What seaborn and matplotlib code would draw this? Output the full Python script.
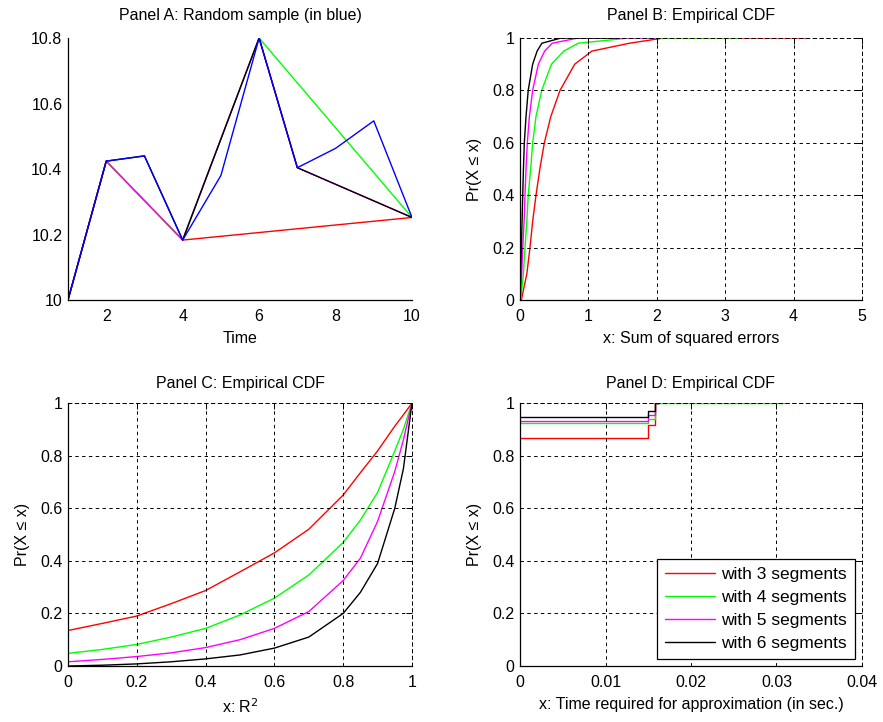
import matplotlib
matplotlib.use("Agg")
import matplotlib.pyplot as plt
import seaborn as sns
import pandas as pd

# ---------------- data ----------------
time = [1, 2, 3, 4, 5, 6, 7, 8, 9, 10]
sample = [10.0, 10.424, 10.44, 10.183, 10.38, 10.8, 10.404, 10.463, 10.547, 10.252]
breaks3 = [1, 2, 4, 10]
breaks4 = [1, 2, 4, 6, 10]
breaks5 = [1, 2, 4, 6, 7, 10]
breaks6 = [1, 2, 3, 4, 6, 7, 10]

series_labels = ["with 3 segments", "with 4 segments", "with 5 segments", "with 6 segments"]
series_colors = ["#ff0000", "#00ff00", "#ff00ff", "#000000"]

# Panel B: empirical CDF of the sum of squared errors (quantiles read at CDF levels)
cdf_levels = [0.0, 0.1, 0.2, 0.3, 0.4, 0.5, 0.6, 0.7, 0.8, 0.9, 0.95, 0.98, 1.0, 1.0]
sse3 = [0.02, 0.10, 0.146, 0.185, 0.234, 0.29, 0.356, 0.45, 0.585, 0.80, 1.05, 1.6, 2.1, 4.2]
sse4 = [0.01, 0.05, 0.073, 0.10, 0.12, 0.156, 0.185, 0.234, 0.317, 0.46, 0.64, 0.85, 1.6, 3.2]
sse5 = [0.005, 0.025, 0.04, 0.06, 0.073, 0.088, 0.107, 0.137, 0.185, 0.268, 0.36, 0.47, 0.85, 2.0]
sse6 = [0.0, 0.01, 0.02, 0.03, 0.04, 0.05, 0.063, 0.088, 0.12, 0.185, 0.25, 0.32, 0.6, 1.4]

# Panel C: empirical CDF of R^2
r2_x = [0.0, 0.1, 0.2, 0.3, 0.4, 0.5, 0.6, 0.7, 0.8, 0.85, 0.9, 0.95, 0.975, 1.0]
r2_3 = [0.135, 0.162, 0.19, 0.237, 0.287, 0.358, 0.43, 0.52, 0.65, 0.735, 0.818, 0.912, 0.955, 1.0]
r2_4 = [0.048, 0.063, 0.082, 0.11, 0.143, 0.194, 0.258, 0.346, 0.47, 0.555, 0.66, 0.818, 0.9, 1.0]
r2_5 = [0.016, 0.025, 0.036, 0.05, 0.07, 0.10, 0.143, 0.207, 0.325, 0.41, 0.55, 0.74, 0.86, 1.0]
r2_6 = [0.0, 0.003, 0.008, 0.016, 0.027, 0.042, 0.068, 0.11, 0.2, 0.28, 0.39, 0.6, 0.75, 1.0]

# Panel D: empirical CDF of computation time (step functions)
t3_x = [0.0, 0.015, 0.0158, 0.0162]
t3_y = [0.867, 0.915, 1.0, 1.0]
t4_x = [0.0, 0.015, 0.0158, 0.031]
t4_y = [0.924, 0.94, 1.0, 1.0]
t5_x = [0.0, 0.015, 0.0158, 0.0162]
t5_y = [0.93, 0.953, 1.0, 1.0]
t6_x = [0.0, 0.015, 0.0158, 0.0162]
t6_y = [0.945, 0.968, 1.0, 1.0]

ticks_A_x = [2, 4, 6, 8, 10]
ticks_A_y = [10.0, 10.2, 10.4, 10.6, 10.8]
ticks_prob = [0, 0.2, 0.4, 0.6, 0.8, 1.0]
ticks_B_x = [0, 1, 2, 3, 4, 5]
ticks_C_x = [0, 0.2, 0.4, 0.6, 0.8, 1.0]
ticks_D_x = [0, 0.01, 0.02, 0.03, 0.04]

# ---------------- style ----------------
sns.set_theme(style="white")
plt.rcParams["font.family"] = ["Liberation Sans", "DejaVu Sans"]
FS = 11.5
plt.rcParams.update({
    "font.size": FS,
    "axes.titlesize": FS,
    "axes.labelsize": FS,
    "xtick.labelsize": FS,
    "ytick.labelsize": FS,
    "xtick.direction": "in",
    "ytick.direction": "in",
    "xtick.major.size": 4,
    "ytick.major.size": 4,
    "xtick.major.width": 0.7,
    "ytick.major.width": 0.7,
    "xtick.major.pad": 6.5,
    "ytick.major.pad": 4,
    "xtick.color": "black",
    "ytick.color": "black",
    "text.color": "black",
    "axes.labelcolor": "black",
    "axes.edgecolor": "black",
    "axes.linewidth": 0.9,
})

W, H = 883, 722
fig = plt.figure(figsize=(W / 100, H / 100), dpi=100)


def px_axes(x0, y0, x1, y1):
    return fig.add_axes([x0 / W, 1 - y1 / H, (x1 - x0) / W, (y1 - y0) / H])


axA = px_axes(68, 38, 412, 300)
axB = px_axes(520, 38, 862, 300)
axC = px_axes(68, 403, 412, 666)
axD = px_axes(520, 403, 862, 666)

LW = 1.0


def fmt(v):
    return ("%g" % v)


def line(ax, x, y, color, label=None, **kw):
    df = pd.DataFrame({"x": x, "y": y})
    sns.lineplot(data=df, x="x", y="y", ax=ax, color=color, lw=LW,
                 estimator=None, sort=False, label=label, legend=False, **kw)


# ---------------- Panel A ----------------
lookup = dict(zip(time, sample))
for br, col in zip([breaks3, breaks4, breaks5, breaks6], series_colors):
    line(axA, br, [lookup[b] for b in br], col)
line(axA, time, sample, "#0000ff")
axA.set_xlim(1, 10)
axA.set_ylim(10.0, 10.8)
axA.set_xticks(ticks_A_x)
axA.set_xticklabels([fmt(v) for v in ticks_A_x])
axA.set_yticks(ticks_A_y)
axA.set_yticklabels([fmt(v) for v in ticks_A_y])
axA.spines["top"].set_visible(False)
axA.spines["right"].set_visible(False)
axA.set_xlabel("Time", labelpad=5)
axA.set_ylabel("")
axA.set_title("Panel A: Random sample (in blue)", pad=13)


def cdf_axes(ax, xlim, xticks, xlabel, title, tpad):
    ax.set_xlim(*xlim)
    ax.set_ylim(0, 1)
    ax.set_xticks(xticks)
    ax.set_xticklabels([fmt(v) for v in xticks])
    ax.set_yticks(ticks_prob)
    ax.set_yticklabels([fmt(v) for v in ticks_prob])
    ax.grid(True, color="black", linestyle=(0, (3.5, 3.5)), linewidth=0.7)
    ax.set_axisbelow(False)
    for s in ["top", "right"]:
        ax.spines[s].set_linestyle((0, (3.5, 3.5)))
        ax.spines[s].set_linewidth(0.7)
    ax.tick_params(top=True, right=True, labeltop=False, labelright=False)
    ax.set_xlabel(xlabel, labelpad=5)
    ax.set_ylabel("Pr(X \u2264 x)", labelpad=7)
    ax.set_title(title, pad=tpad)


# ---------------- Panel B ----------------
for q, col in zip([sse3, sse4, sse5, sse6], series_colors):
    line(axB, q, cdf_levels, col)
cdf_axes(axB, (0, 5), ticks_B_x, "x: Sum of squared errors", "Panel B: Empirical CDF", 13)

# ---------------- Panel C ----------------
for v, col in zip([r2_3, r2_4, r2_5, r2_6], series_colors):
    line(axC, r2_x, v, col)
cdf_axes(axC, (0, 1), ticks_C_x, "x: R$^2$", "Panel C: Empirical CDF", 11)

# ---------------- Panel D ----------------
for (tx, ty), col, lab in zip([(t3_x, t3_y), (t4_x, t4_y), (t5_x, t5_y), (t6_x, t6_y)],
                              series_colors, series_labels):
    line(axD, tx, ty, col, label=lab, drawstyle="steps-post")
cdf_axes(axD, (0, 0.04), ticks_D_x, "x: Time required for approximation (in sec.)",
         "Panel D: Empirical CDF", 11)
LFS = 12.5
leg = axD.legend(loc="lower right", frameon=True, fancybox=False, framealpha=1,
                 edgecolor="black", handlelength=2.9, labelspacing=0.45,
                 borderpad=0.45, borderaxespad=0.42, handletextpad=0.35, fontsize=LFS)
leg.get_frame().set_linewidth(0.9)

fig.savefig("out.png", dpi=100)
